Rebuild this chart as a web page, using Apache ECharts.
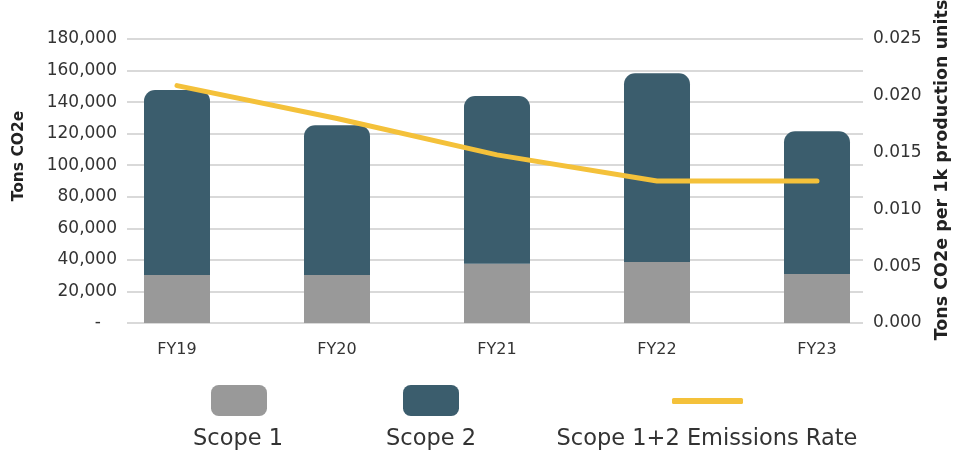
<!DOCTYPE html>
<html>
<head>
<meta charset="utf-8">
<script src="https://cdn.jsdelivr.net/npm/echarts@6/dist/echarts.min.js"></script>
<style>
  html, body { margin: 0; padding: 0; background: #fff; }
  #main { width: 953px; height: 454px; }
</style>
</head>
<body>
<div id="main"></div>
<script>
// chart data
var years = ['FY19', 'FY20', 'FY21', 'FY22', 'FY23'];
var scope1 = [30400, 30400, 37600, 38700, 31100];
var scope2 = [117300, 94900, 106300, 119600, 90400];
var emissionsRate = [0.0209, 0.0180, 0.0148, 0.0125, 0.0125];

var leftTicks = { min: 0, max: 180000, interval: 20000 };
var rightTicks = { min: 0, max: 0.025, interval: 0.005 };

var grey = '#999999';
var teal = '#3b5d6d';
var yellow = '#f4c13a';
var font = '"DejaVu Sans"';

var chart = echarts.init(document.getElementById('main'));

var option = {
  animation: false,
  backgroundColor: '#fff',
  // grid 0 holds the bars/line, grid 1 only the gridlines and tick labels
  grid: [
    { left: 97, right: 56, top: 39, bottom: 131, outerBoundsMode: 'none' },
    { left: 127, right: 90, top: 39, bottom: 131, outerBoundsMode: 'none' }
  ],
  xAxis: [
    {
      type: 'category',
      gridIndex: 0,
      data: years,
      axisLine: { show: false },
      axisTick: { show: false },
      axisLabel: { color: '#333', fontSize: 16, fontFamily: font, margin: 19 }
    },
    { type: 'value', gridIndex: 1, min: 0, max: 1, show: false }
  ],
  yAxis: [
    { type: 'value', gridIndex: 0, min: leftTicks.min, max: leftTicks.max, show: false },
    { type: 'value', gridIndex: 0, min: rightTicks.min, max: rightTicks.max, show: false },
    {
      type: 'value',
      gridIndex: 1,
      position: 'left',
      min: leftTicks.min, max: leftTicks.max, interval: leftTicks.interval,
      name: 'Tons CO2e',
      nameLocation: 'middle',
      nameRotate: 90,
      nameGap: 100,
      nameTextStyle: { color: '#222', fontSize: 15.5, fontWeight: 'bold', fontFamily: font, padding: [0, 0, 0, 50] },
      axisLine: { show: false },
      axisTick: { show: false },
      axisLabel: {
        color: '#333', fontSize: 17, fontFamily: font, margin: 10,
        formatter: function (v) { return v === 0 ? '-   ' : v.toLocaleString('en-US'); }
      },
      splitLine: { lineStyle: { color: '#d9d9d9', width: 2 } }
    },
    {
      type: 'value',
      gridIndex: 1,
      position: 'right',
      min: rightTicks.min, max: rightTicks.max, interval: rightTicks.interval,
      name: 'Tons CO2e per 1k production units',
      nameLocation: 'middle',
      nameRotate: 90,
      nameGap: 70,
      nameTextStyle: { color: '#222', fontSize: 17.5, fontWeight: 'bold', fontFamily: font, padding: [0, 0, 0, 22] },
      axisLine: { show: false },
      axisTick: { show: false },
      axisLabel: {
        color: '#333', fontSize: 17, fontFamily: font, margin: 10,
        formatter: function (v) { return v.toFixed(3); }
      },
      splitLine: { show: false }
    }
  ],
  legend: [
    { data: [{ name: 'Scope 1', icon: 'roundRect' }], left: 211, top: 385, padding: 0, itemWidth: 56, itemHeight: 31, formatter: function () { return ''; } },
    { data: [{ name: 'Scope 2', icon: 'roundRect' }], left: 403, top: 385, padding: 0, itemWidth: 56, itemHeight: 31, formatter: function () { return ''; } },
    { data: [{ name: 'Scope 1+2 Emissions Rate', icon: 'roundRect' }], left: 672, top: 398, padding: 0, itemWidth: 71, itemHeight: 6, formatter: function () { return ''; } }
  ],
  series: [
    {
      name: 'Scope 1',
      type: 'bar',
      stack: 'total',
      xAxisIndex: 0, yAxisIndex: 0,
      barWidth: 66,
      itemStyle: { color: grey },
      data: scope1
    },
    {
      name: 'Scope 2',
      type: 'bar',
      stack: 'total',
      xAxisIndex: 0, yAxisIndex: 0,
      barWidth: 66,
      itemStyle: { color: teal, borderRadius: [11, 11, 0, 0] },
      data: scope2
    },
    {
      name: 'Scope 1+2 Emissions Rate',
      type: 'line',
      xAxisIndex: 0, yAxisIndex: 1,
      symbol: 'none',
      lineStyle: { color: yellow, width: 5, cap: 'round' },
      itemStyle: { color: yellow },
      z: 5,
      data: emissionsRate
    }
  ]
};

// legend labels sit under the icons
var legendLabels = [
  { text: 'Scope 1', cx: 238 },
  { text: 'Scope 2', cx: 431 },
  { text: 'Scope 1+2 Emissions Rate', cx: 707 }
];
option.graphic = legendLabels.map(function (l) {
  return {
    type: 'text',
    x: l.cx,
    y: 428,
    style: { text: l.text, fill: '#333', fontSize: 22.5, fontFamily: font, align: 'center', verticalAlign: 'top' }
  };
});

chart.setOption(option);
</script>
</body>
</html>
